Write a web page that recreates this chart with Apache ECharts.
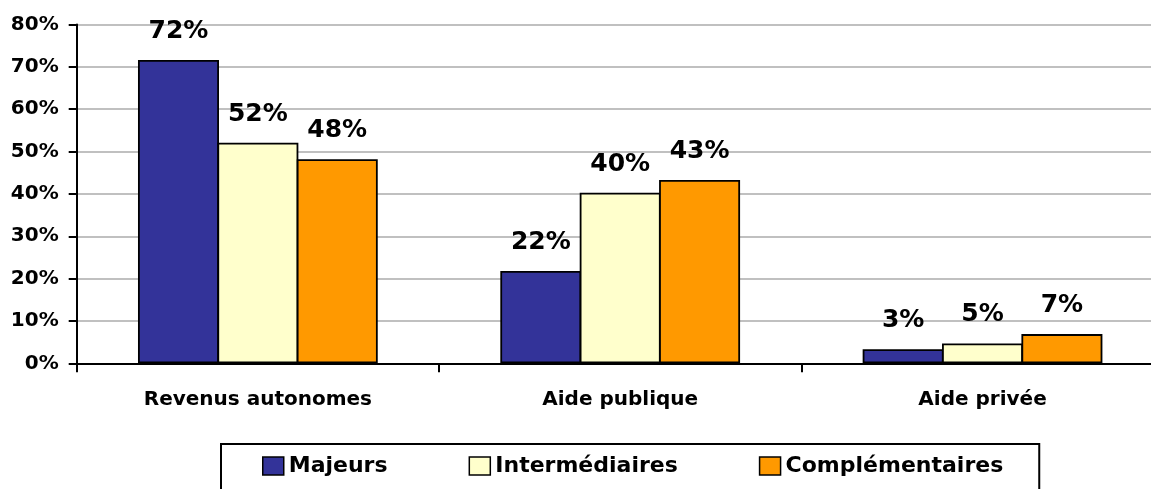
<!DOCTYPE html>
<html>
<head>
<meta charset="utf-8">
<script src="https://cdn.jsdelivr.net/npm/echarts@6/dist/echarts.min.js"></script>
<style>
  html, body { margin: 0; padding: 0; background: #fff; }
  #chart { width: 1151px; height: 489px; }
</style>
</head>
<body>
<div id="chart"></div>
<script>
// data
const categories = ["Revenus autonomes", "Aide publique", "Aide privée"];
const majeurs = [71.6, 21.8, 3.3];
const intermediaires = [52.1, 40.3, 4.7];
const complementaires = [48.2, 43.3, 6.9];
const seriesNames = ["Majeurs", "Intermédiaires", "Complémentaires"];
const colors = ["#333399", "#FFFFCC", "#FF9900"];

const font = "DejaVu Sans";

function makeSeries(name, data, color) {
  return {
    name: name,
    type: "bar",
    data: data,
    barGap: "-2%",
    barWidth: 81,
    itemStyle: {
      color: color,
      borderColor: "#000",
      borderWidth: 1.8
    },
    label: {
      show: true,
      position: "top",
      distance: 16,
      formatter: p => Math.round(p.value) + "%",
      fontFamily: font,
      fontWeight: "bold",
      fontSize: 25,
      color: "#000"
    }
  };
}

let myChart = echarts.init(document.getElementById("chart"));
let option = {
  animation: false,
  backgroundColor: "#fff",
  grid: {
    left: 76.7,
    width: 1087,
    top: 24.5,
    bottom: 125.7,
    outerBoundsMode: "none"
  },
  legend: {
    data: seriesNames,
    left: 221,
    top: 444,
    orient: "horizontal",
    icon: "rect",
    itemWidth: 21,
    itemHeight: 18,
    itemGap: 81,
    padding: [11, 36, 40, 41],
    borderColor: "#000",
    borderWidth: 2,
    itemStyle: {
      borderColor: "#000",
      borderWidth: 1.5
    },
    textStyle: {
      fontFamily: font,
      fontWeight: "bold",
      fontSize: 22,
      color: "#000"
    }
  },
  xAxis: {
    type: "category",
    data: categories,
    axisLine: { show: true, lineStyle: { color: "#000", width: 2 } },
    axisTick: { show: true, length: 9, interval: 0, lineStyle: { color: "#000", width: 2 } },
    axisLabel: {
      margin: 26,
      fontFamily: font,
      fontWeight: "bold",
      fontSize: 20,
      color: "#000"
    },
    z: 5
  },
  yAxis: {
    type: "value",
    min: 0,
    max: 80,
    interval: 10,
    axisLine: { show: true, lineStyle: { color: "#000", width: 2 } },
    axisTick: { show: true, length: 8, lineStyle: { color: "#000", width: 2 } },
    axisLabel: {
      formatter: "{value}%",
      margin: 18,
      fontFamily: font,
      fontWeight: "bold",
      fontSize: 20,
      color: "#000"
    },
    splitLine: { show: true, lineStyle: { color: "#c0c0c0", width: 2 } }
  },
  series: [
    makeSeries(seriesNames[0], majeurs, colors[0]),
    makeSeries(seriesNames[1], intermediaires, colors[1]),
    makeSeries(seriesNames[2], complementaires, colors[2])
  ]
};
myChart.setOption(option);
</script>
</body>
</html>
